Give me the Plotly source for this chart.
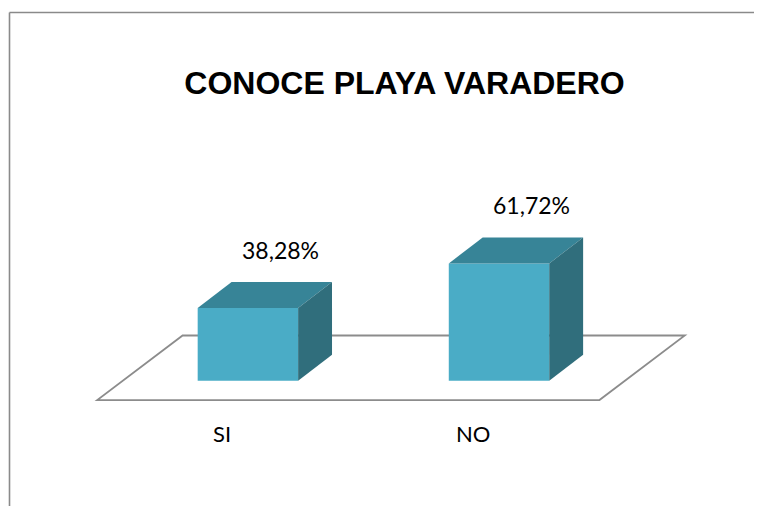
import plotly.graph_objects as go

# survey result: "¿Conoce Playa Varadero?"
categories = ["SI", "NO"]
values = [38.28, 61.72]
value_labels = ["38,28%", "61,72%"]
title_text = "CONOCE PLAYA VARADERO"

FRONT = "#4aacc6"
TOP = "#378497"
SIDE = "#306e7c"
FLOOR_LINE = "#8c8c8c"

# page body has an 8px margin, so the figure is a bit smaller than the window
OFF = 8
W, H = 762 - OFF, 506 - OFF
bar_w = 0.4
# fake 3d depth of the bars and of the floor, in axis units
bar_dx, bar_dy = 0.135, 13.7
floor_left, floor_right = 0.6, 0.4
floor_front = -10.2
floor_dx, floor_dy = 0.34, 34.0

xs = list(range(len(categories)))

fig = go.Figure()

# floor plane (drawn below everything)
fx0 = xs[0] - floor_left
fx1 = xs[-1] + floor_right
floor_path = (
    f"M {fx0},{floor_front} L {fx1},{floor_front} "
    f"L {fx1 + floor_dx},{floor_front + floor_dy} "
    f"L {fx0 + floor_dx},{floor_front + floor_dy} Z"
)
fig.add_shape(type="path", path=floor_path, xref="x", yref="y",
              line=dict(color=FLOOR_LINE, width=1.8), fillcolor="white",
              layer="below")

# front faces
fig.add_trace(go.Bar(x=xs, y=values, width=bar_w, marker=dict(color=FRONT, line=dict(width=0)),
                     hoverinfo="skip"))

# top and side faces
for c, v in zip(xs, values):
    l, r = c - bar_w / 2, c + bar_w / 2
    fig.add_trace(go.Scatter(
        x=[l, r, r + bar_dx, l + bar_dx, l],
        y=[v, v, v + bar_dy, v + bar_dy, v],
        fill="toself", fillcolor=TOP, mode="lines", line=dict(width=0, color=TOP),
        hoverinfo="skip"))
    fig.add_trace(go.Scatter(
        x=[r, r + bar_dx, r + bar_dx, r, r],
        y=[0, bar_dy, v + bar_dy, v, 0],
        fill="toself", fillcolor=SIDE, mode="lines", line=dict(width=0, color=SIDE),
        hoverinfo="skip"))

# value labels above the bars
for c, v, t in zip(xs, values, value_labels):
    fig.add_annotation(x=c + 0.13, y=v + bar_dy + 17, text=t, showarrow=False,
                       font=dict(family="Lato", size=23, color="black"))

# category labels on the floor
for c, t in zip(xs, categories):
    fig.add_annotation(x=c - 0.105, y=-28, text=t, showarrow=False,
                       font=dict(family="Lato", size=22, color="black"))


def px(x):
    return (x - OFF) / W


def py(y):
    return 1 - (y - OFF) / H


# chart frame (only top and left edges visible)
fig.add_shape(type="line", xref="paper", yref="paper",
              x0=px(9.5), x1=1.02, y0=py(12.5), y1=py(12.5),
              line=dict(color="#8a8a8a", width=1.6))
fig.add_shape(type="line", xref="paper", yref="paper",
              x0=px(9.5), x1=px(9.5), y0=py(12.5), y1=-0.02,
              line=dict(color="#8a8a8a", width=1.6))

fig.update_layout(
    width=W, height=H,
    margin=dict(l=0, r=0, t=0, b=0),
    paper_bgcolor="white", plot_bgcolor="white",
    showlegend=False,
    title=dict(text=f"<b>{title_text}</b>", x=px(404.5), y=py(82.5),
               xanchor="center", yanchor="middle",
               font=dict(family="Liberation Sans, Arial", size=32, color="black")),
    xaxis=dict(range=[-0.9554, 2.0474], visible=False, fixedrange=True),
    yaxis=dict(range=[-65.95, 196.16], visible=False, fixedrange=True),
)

fig.write_html("out.html")
